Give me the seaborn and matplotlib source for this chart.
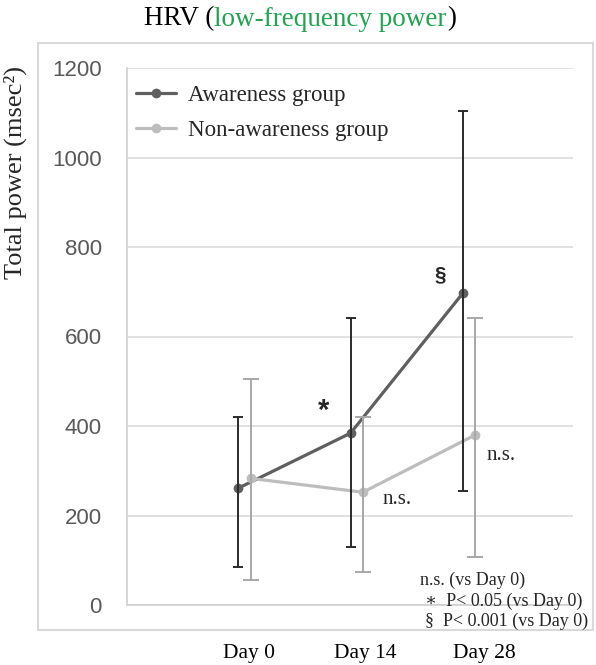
import matplotlib
matplotlib.use("Agg")
import matplotlib.pyplot as plt
import matplotlib.transforms as mtransforms
from matplotlib.patches import Rectangle
from matplotlib.lines import Line2D
import seaborn as sns
import numpy as np
import pandas as pd

# data
days = ["Day 0", "Day 14", "Day 28"]
groups = ["Awareness group", "Non-awareness group"]
aware_mean = [261, 384, 697]
aware_hi = [420, 641, 1104]
aware_lo = [85, 130, 255]
nonaware_mean = [283, 252, 380]
nonaware_hi = [505, 420, 641]
nonaware_lo = [56, 74, 107]
y_ticks = [0, 200, 400, 600, 800, 1000, 1200]

SERIF = ["Liberation Serif", "DejaVu Serif"]
SANS = ["Liberation Sans", "DejaVu Sans"]

sns.set_theme(style="white")
plt.rcParams["font.family"] = SERIF

W, H = 596, 665
fig = plt.figure(figsize=(W / 100, H / 100), dpi=100)
ax = fig.add_axes([127 / W, 1 - 605 / H, (573 - 127) / W, (605 - 68) / H])

offsets = {"Awareness group": -0.05, "Non-awareness group": 0.06}
colors = {"Awareness group": "#5f5f5f", "Non-awareness group": "#bdbdbd"}
bar_colors = {"Awareness group": "#2b2b2b", "Non-awareness group": "#a8a8a8"}
caps = {"Awareness group": 3.6, "Non-awareness group": 5.8}

df = pd.DataFrame({
    "day": np.tile(np.arange(len(days)), 2),
    "group": np.repeat(groups, len(days)),
    "value": aware_mean + nonaware_mean,
    "hi": aware_hi + nonaware_hi,
    "lo": aware_lo + nonaware_lo,
})
df["x"] = df["day"] + df["group"].map(offsets)

# error bars (mean +/- SD)
for g, sub in df.groupby("group"):
    ax.errorbar(sub["x"], sub["value"],
                yerr=[sub["value"] - sub["lo"], sub["hi"] - sub["value"]],
                fmt="none", ecolor=bar_colors[g], elinewidth=1.4,
                capsize=caps[g], capthick=1.4, zorder=3)

sns.lineplot(data=df, x="x", y="value", hue="group", hue_order=groups,
             palette=colors, marker="o", markersize=7, markeredgewidth=0,
             linewidth=2.3, legend=False, ax=ax, zorder=2, sort=False)

ax.set_xlim(-1.04, 2.93)
ax.set_ylim(0, 1200)
ax.set_yticks(y_ticks)
ax.set_yticklabels([str(t) for t in y_ticks], fontfamily=SANS, fontsize=16,
                   color="#595959")
ax.set_xticks(range(len(days)))
ax.set_xticklabels(days, fontsize=15.5, color="black")
ax.tick_params(axis="y", length=0, pad=18)
ax.tick_params(axis="x", length=0, pad=28)
# small horizontal nudges so the day labels sit where the reference has them
for lab, dx in zip(ax.get_xticklabels(), [5, 9, 16]):
    lab.set_transform(lab.get_transform() +
                      mtransforms.ScaledTranslation(dx / 100, 0,
                                                    fig.dpi_scale_trans))
ax.grid(axis="y", color="#d9d9d9", linewidth=1.1)
ax.set_axisbelow(True)
for s in ["top", "right"]:
    ax.spines[s].set_visible(False)
for s in ["left", "bottom"]:
    ax.spines[s].set_color("#d0d0d0")
    ax.spines[s].set_linewidth(1.2)
ax.set_xlabel("")
ax.set_ylabel("")

# legend
handles = [Line2D([0], [0], color=colors[g], lw=2.3, marker="o", markersize=7,
                  markeredgewidth=0) for g in groups]
ax.legend(handles, groups, loc="upper left", bbox_to_anchor=(0.0, 0.985),
          frameon=False, fontsize=16.5, handlelength=1.75, handletextpad=0.5,
          labelspacing=0.6, borderaxespad=0.0)

# significance marks
ax.text(1 - 0.29, aware_mean[1] + 50, "*", fontfamily=SANS, fontsize=21,
        fontweight="bold", ha="center", va="center")
ax.text(2 - 0.25, aware_mean[2] + 40, "§", fontfamily=SANS, fontsize=15,
        fontweight="bold", ha="center", va="center")
ax.text(1 + 0.36, nonaware_mean[1] - 17, "n.s.", fontsize=15, ha="center",
        va="center")
ax.text(2 + 0.29, nonaware_mean[2] - 45, "n.s.", fontsize=15, ha="center",
        va="center")

# footnote
fig.text(420 / W, 1 - 580 / H, "n.s. (vs Day 0)", fontsize=13, va="center")
fig.text(425 / W, 1 - 601 / H, "∗  P< 0.05 (vs Day 0)", fontsize=13,
         va="center", family=SERIF + ["DejaVu Sans"])
fig.text(425 / W, 1 - 621 / H, "§  P< 0.001 (vs Day 0)", fontsize=13,
         va="center")

# y label
fig.text(15 / W, 1 - 173 / H, "Total power (msec²)", rotation=90,
         fontsize=19, ha="center", va="center")

# outer chart frame
fig.patches.append(Rectangle((38 / W, 1 - 630 / H), (593 - 38) / W,
                             (630 - 43) / H, transform=fig.transFigure,
                             fill=False, edgecolor="#d9d9d9", linewidth=1.5))

# title with coloured part
pieces = [("HRV (", "black"), ("low-frequency power", "#21a351"), (")", "black")]
fig.canvas.draw()
r = fig.canvas.get_renderer()
texts = [fig.text(0, 1 - 19 / H, s, fontsize=19.5, color=c, va="center")
         for s, c in pieces]
widths = [t.get_window_extent(r).width for t in texts]
x = 300 - sum(widths) / 2
for t, w in zip(texts, widths):
    t.set_x(x / W)
    x += w

fig.savefig("out.png", dpi=100)
